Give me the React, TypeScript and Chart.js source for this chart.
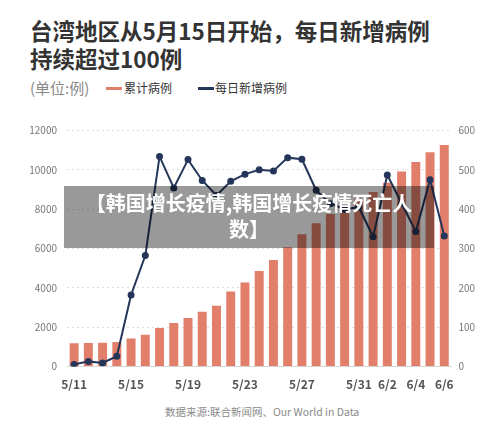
import React, { useEffect, useRef } from "react";
import { Chart, registerables } from "chart.js";

Chart.register(...registerables);

const FONT = '"Noto Sans CJK SC", "Noto Sans", sans-serif';

const dates = [
  "5/11", "5/12", "5/13", "5/14", "5/15", "5/16", "5/17", "5/18", "5/19", "5/20",
  "5/21", "5/22", "5/23", "5/24", "5/25", "5/26", "5/27", "5/28", "5/29", "5/30",
  "5/31", "6/1", "6/2", "6/3", "6/4", "6/5", "6/6",
];

const cumulativeCases = [
  1180, 1190, 1210, 1240, 1420, 1620, 1960, 2210, 2470, 2790,
  3090, 3810, 4270, 4860, 5420, 6060, 6720, 7280, 7760, 8180,
  8530, 8870, 9340, 9920, 10400, 10900, 11260,
];

const dailyCases = [
  5, 13, 9, 26, 182, 282, 534, 454, 526, 473,
  435, 471, 489, 500, 497, 531, 527, 448, 414, 400,
  405, 330, 487, 415, 343, 475, 332,
];

const shownDateLabels = ["5/11", "5/15", "5/19", "5/23", "5/27", "5/31", "6/2", "6/4", "6/6"];

const leftAxisMax = 12000;
const leftAxisStep = 2000;
const rightAxisMax = 600;
const rightAxisStep = 100;

const BAR_COLOR = "#e17f6b";
const LINE_COLOR = "#243659";

export default function App() {
  const canvasRef = useRef<HTMLCanvasElement | null>(null);

  useEffect(() => {
    if (!canvasRef.current) return;
    Chart.defaults.font.family = FONT;
    const chart = new Chart(canvasRef.current, {
      type: "bar",
      data: {
        labels: dates,
        datasets: [
          {
            type: "line",
            label: "每日新增病例",
            data: dailyCases,
            yAxisID: "y1",
            borderColor: LINE_COLOR,
            backgroundColor: LINE_COLOR,
            pointBackgroundColor: LINE_COLOR,
            pointBorderColor: LINE_COLOR,
            borderWidth: 2,
            pointRadius: 2.5,
            tension: 0,
            order: 1,
          } as any,
          {
            type: "bar",
            label: "累计病例",
            data: cumulativeCases,
            yAxisID: "y",
            backgroundColor: BAR_COLOR,
            barPercentage: 0.63,
            categoryPercentage: 1,
            order: 2,
          },
        ],
      },
      options: {
        responsive: false,
        maintainAspectRatio: false,
        animation: false,
        layout: { padding: { top: 20.5, left: 0, right: 0, bottom: 0 } },
        plugins: { legend: { display: false }, tooltip: { enabled: false } },
        scales: {
          x: {
            type: "category",
            offset: true,
            grid: { display: false },
            border: { display: true, color: "#d6d6d6", width: 1 },
            ticks: {
              autoSkip: false,
              maxRotation: 0,
              padding: 3,
              color: "#555",
              font: { size: 12, weight: "bold", family: FONT },
              callback: (_v: any, i: number) =>
                shownDateLabels.includes(dates[i]) ? dates[i] : "",
            },
            afterFit: (s: any) => {
              s.height = 33.5;
            },
          },
          y: {
            position: "left",
            min: 0,
            max: leftAxisMax,
            grid: { color: "#dedede", drawTicks: false, lineWidth: 1 },
            border: { display: false, dash: [2, 3] },
            ticks: {
              stepSize: leftAxisStep,
              padding: 10,
              color: "#777",
              font: { size: 10, family: FONT },
              callback: (v: any) => String(v),
            },
            afterFit: (s: any) => {
              s.width = 67;
            },
          },
          y1: {
            position: "right",
            min: 0,
            max: rightAxisMax,
            grid: { display: false, drawTicks: false },
            border: { display: false },
            ticks: {
              stepSize: rightAxisStep,
              padding: 7,
              color: "#777",
              font: { size: 10, family: FONT },
              callback: (v: any) => String(v),
            },
            afterFit: (s: any) => {
              s.width = 48.6;
            },
          },
        },
      } as any,
    });
    return () => chart.destroy();
  }, []);

  return (
    <div
      style={{
        position: "fixed",
        left: 0,
        top: 0,
        width: 500,
        height: 435,
        background: "#fff",
        fontFamily: FONT,
        overflow: "hidden",
      }}
    >
      <div
        style={{
          position: "absolute",
          left: 30,
          top: 16,
          fontSize: 22.5,
          fontWeight: 700,
          lineHeight: "28px",
          color: "#333",
          whiteSpace: "nowrap",
        }}
      >
        台湾地区从5月15日开始，每日新增病例
        <br />
        持续超过100例
      </div>

      <div
        style={{
          position: "absolute",
          left: 30,
          top: 80,
          fontSize: 15,
          lineHeight: "16px",
          color: "#888",
          whiteSpace: "nowrap",
        }}
      >
        (单位:例)
      </div>
      <div style={{ position: "absolute", left: 106, top: 86.5, width: 16, height: 3, background: BAR_COLOR }} />
      <div
        style={{
          position: "absolute",
          left: 124,
          top: 80,
          fontSize: 12,
          lineHeight: "16px",
          color: "#333",
          whiteSpace: "nowrap",
        }}
      >
        累计病例
      </div>
      <div style={{ position: "absolute", left: 198, top: 86.5, width: 16, height: 3, background: LINE_COLOR }} />
      <div
        style={{
          position: "absolute",
          left: 215,
          top: 80,
          fontSize: 12,
          lineHeight: "16px",
          color: "#333",
          whiteSpace: "nowrap",
        }}
      >
        每日新增病例
      </div>

      <canvas
        ref={canvasRef}
        width={500}
        height={290}
        style={{ position: "absolute", left: 0, top: 110, width: 500, height: 290 }}
      />

      <div
        style={{
          position: "absolute",
          left: 165,
          top: 405,
          fontSize: 10.5,
          lineHeight: "14px",
          color: "#8a8a8a",
          whiteSpace: "nowrap",
        }}
      >
        数据来源:联合新闻网、Our World in Data
      </div>

      <div
        style={{
          position: "absolute",
          left: 64,
          top: 186,
          width: 370,
          height: 62,
          background: "rgba(0,0,0,0.4)",
          color: "#fff",
          fontWeight: 700,
          fontSize: 20,
          lineHeight: "26px",
          textAlign: "center",
          paddingTop: 4,
          boxSizing: "border-box",
          whiteSpace: "nowrap",
        }}
      >
        【韩国增长疫情,韩国增长疫情死亡人
        <br />
        数】
      </div>
    </div>
  );
}
